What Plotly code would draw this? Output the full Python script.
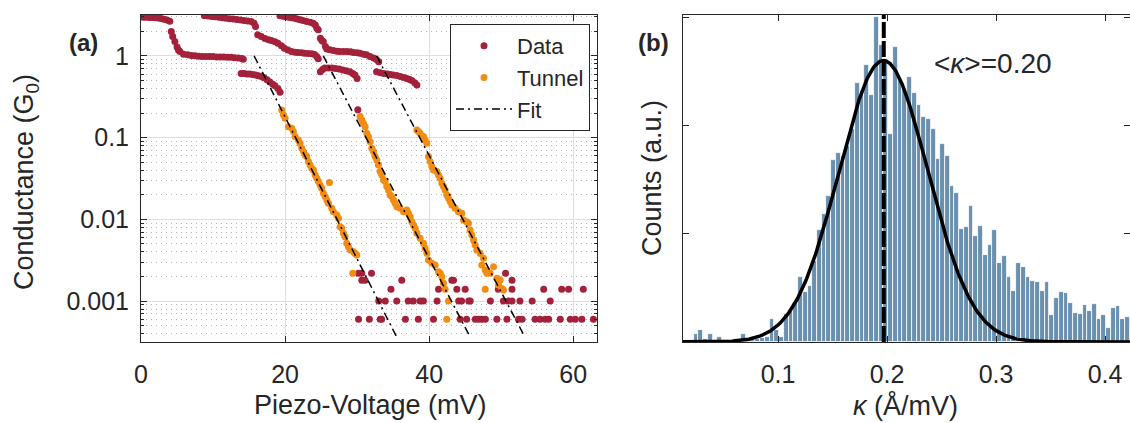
import numpy as np
import plotly.graph_objects as go

# ---------------- Panel (a) data ----------------
trace1_v = [0.0,0.4,0.8,1.2,1.6,2.0,2.4,2.8,3.2,3.6,4.0, 4.2,4.4,4.7,5.0,5.2,5.4,5.9,
            6.5,7.0,7.5,8.0,8.5,9.0,9.5,10.0,10.5,11.0,11.5,12.0,12.5,13.0,13.5,14.0,14.2,
            13.9,14.3,14.7,15.1,15.5,15.9,16.3,16.7,17.1,17.5,17.9,18.3,18.6,19.0,19.3]
trace1_g = [2.98,2.97,2.96,2.95,2.94,2.92,2.9,2.86,2.8,2.74,2.66, 1.98,1.72,1.5,1.28,1.18,1.13,1.05,
            1.03,1.01,1.0,0.99,0.98,0.98,0.98,0.98,0.97,0.97,0.97,0.96,0.96,0.95,0.94,0.93,0.91,
            0.61,0.61,0.60,0.60,0.59,0.585,0.57,0.56,0.54,0.51,0.48,0.45,0.43,0.40,0.36]

trace2_v = [8.8,9.3,9.8,10.3,10.8,11.3,11.8,12.3,12.8,13.3,13.8,14.3,14.8,15.3,15.7,15.9,
            16.2,16.7,17.2,17.7,18.1,18.6,19.0,19.5,19.9,20.4,20.9,21.4,21.8,22.3,22.7,23.2,23.7,24.1,24.4,24.6,
            24.9,25.2,25.5,26.0,26.5,27.0,27.5,28.0,28.5,29.0,29.4,29.7,30.0, 30.1]
trace2_g = [3.1,3.07,3.03,3.0,2.96,2.92,2.88,2.85,2.82,2.78,2.74,2.7,2.67,2.63,2.5,2.28,
            1.81,1.72,1.63,1.58,1.54,1.49,1.43,1.33,1.24,1.18,1.13,1.11,1.10,1.09,1.08,1.07,1.06,1.04,0.98,0.92,
            0.64,0.68,0.71,0.71,0.71,0.70,0.69,0.67,0.66,0.64,0.61,0.585,0.53, 0.22]

trace3_v = [19.3,19.7,20.1,20.5,20.9,21.3,21.7,22.1,22.5,23.0,23.5,23.9,24.2,24.4,24.6,
            24.9,25.1,25.3,25.6,
            25.8,26.2,26.7,27.2,27.6,28.1,28.6,29.1,29.5,30.0,30.4,30.9,31.3,31.8,32.3,32.7,33.0,
            32.7,33.2,33.7,34.2,34.6,35.0,35.5,36.0,36.5,36.9,37.3,37.6,38.0,38.3]
trace3_g = [3.1,3.05,3.0,2.96,2.92,2.89,2.83,2.76,2.7,2.63,2.57,2.51,2.38,2.18,2.08,
            1.64,1.54,1.5,1.30,
            1.21,1.19,1.16,1.14,1.13,1.13,1.13,1.12,1.10,1.09,1.08,1.05,1.03,0.98,0.94,0.9,0.85,
            0.64,0.62,0.61,0.6,0.59,0.585,0.575,0.56,0.545,0.53,0.515,0.50,0.47,0.44]

noise_v = [30.2,30.65,32.0,50.6,
           30.65,31.1,36.2,43.15,43.38,51.5,
           34.7,41.3,43.84,45.0,49.6,51.5,55.9,58.4,59.35,61.4,
           33.0,33.9,35.5,37.1,37.8,38.75,39.2,41.1,44.1,44.5,45.5,45.7,48.5,50.3,51.0,51.5,52.6,54.3,56.8,
           30.2,31.7,33.2,33.4,36.7,38.5,40.6,44.3,45.2,46.4,46.85,47.3,47.8,49.4,50.8,52.4,52.9,54.7,55.4,
           56.1,56.6,58.2,59.6,60.3,61.2,62.8]
noise_g = [0.0022]*4 + [0.0018]*6 + [0.0014]*10 + [0.001]*19 + [0.0006]*26

tunnel1_v = [19.54,19.77,20.0,20.46,20.93,21.16,21.39,21.85,22.08,22.31,22.55,22.78,23.01,23.24,23.47,
             23.70,23.94,24.17,24.40,24.63,24.86,25.09,25.32,25.56,25.79,26.02,26.16,26.48,26.71,27.18,
             27.41,27.64,27.87,28.10,28.33,28.56,28.80,29.04,29.5,29.72,29.95,29.4]
tunnel1_g = [0.218,0.190,0.173,0.136,0.130,0.119,0.103,0.0937,0.0853,0.0741,0.0675,0.0614,0.0586,0.0509,
             0.0463,0.0422,0.0403,0.0349,0.0318,0.0290,0.0264,0.0240,0.0208,0.0190,0.0173,0.0157,0.0282,
             0.0137,0.0124,0.0113,0.0103,0.00815,0.00778,0.00676,0.00615,0.00509,0.00463,0.00422,0.00403,
             0.00384,0.00367,0.0022]

tunnel2_v = [30.42,30.65,30.88,31.11,31.34,31.57,31.81,32.04,32.27,32.5,32.73,32.96,33.19,33.43,33.66,
             33.89,34.12,34.35,34.58,34.81,35.05,35.28,35.51,35.97,36.44,36.9,37.13,37.36,37.59,37.82,
             38.06,38.29,38.75,39.21,39.44,39.68,39.91,40.37,40.83,41.3,41.53,41.76,41.99,42.22,42.69,42.45]
tunnel2_g = [0.181,0.165,0.150,0.136,0.113,0.103,0.0893,0.0741,0.0675,0.0586,0.0533,0.0463,0.0384,0.0349,
             0.0303,0.0290,0.0252,0.0229,0.0199,0.0190,0.0173,0.0157,0.0143,0.0137,0.0124,0.0130,0.0119,
             0.0108,0.00938,0.00854,0.00778,0.00676,0.00587,0.00509,0.00443,0.00384,0.00318,0.0029,
             0.00277,0.00229,0.00219,0.00199,0.00165,0.0014,0.001,0.0006]

tunnel3_v = [38.29,38.52,38.75,39.21,39.44,39.68,39.91,40.14,40.37,40.6,41.06,41.3,41.53,41.76,41.99,
             42.22,42.45,42.69,42.92,43.15,43.61,44.07,44.54,44.77,45.23,45.46,45.69,45.93,46.16,46.39,
             46.62,47.08,47.55,47.31,47.78,48.01,48.47,48.94,49.4,49.86,49.63,50.09,50.32,47.78]
tunnel3_g = [0.124,0.119,0.113,0.103,0.0937,0.0853,0.0586,0.0509,0.0442,0.0403,0.0384,0.0349,0.0318,
             0.0276,0.0252,0.0229,0.0199,0.0181,0.0165,0.0150,0.0137,0.0124,0.0119,0.00984,0.00938,
             0.00895,0.00742,0.00644,0.0056,0.00486,0.00422,0.00384,0.00334,0.00277,0.0024,0.00219,
             0.00219,0.00264,0.0019,0.00181,0.00157,0.00143,0.00137,0.0014]

fit_v_start = [15.7, 25.3, 32.7]
fit_v_end = [35.5, 45.7, 53.3]
fit_g_start = [1.0, 1.0, 1.0]
fit_g_end = [0.000363, 0.000363, 0.000363]

# ---------------- Panel (b) data ----------------
hist_first_center = 0.0248
hist_bin_width = 0.00435
hist_counts = [0.07,0.11,0.03,0.07,0.01,0.05,0.02,0.01,0.01,0.0,
               0.07,0.02,0.02,0.03,0.04,0.05,0.21,0.11,0.05,0.26,
               0.29,0.36,0.60,0.46,0.52,0.75,1.03,1.18,1.35,1.68,
               1.75,1.72,1.81,1.97,2.39,2.32,2.56,2.28,3.0,2.74,
               2.6,1.92,2.72,2.42,2.34,2.45,2.3,2.19,2.08,2.06,
               1.97,1.69,1.83,1.72,1.44,1.38,1.04,1.06,1.26,0.98,
               1.07,0.80,0.90,1.03,0.73,0.79,0.60,0.47,0.73,0.69,
               0.60,0.56,0.55,0.47,0.55,0.25,0.41,0.46,0.45,0.36,
               0.27,0.26,0.34,0.29,0.35,0.21,0.25,0.13,0.31,0.33,
               0.21,0.23,0.18]
gauss_mean = 0.1967
gauss_sigma = 0.0408
gauss_amp = 2.60
kappa_mean_line = 0.197

# ---------------- Figure ----------------
W, H = 1130, 423
def px(x): return x / W
def py(y): return 1 - y / H

FONT = "Arial, Liberation Sans, Helvetica, sans-serif"
TXT = "#262626"
RED = "#a3213a"
ORANGE = "#f28c12"
BAR = "#6990af"

fig = go.Figure()

data_v = trace1_v + trace2_v + trace3_v + noise_v
data_g = trace1_g + trace2_g + trace3_g + noise_g
fig.add_trace(go.Scatter(x=data_v, y=data_g, mode="markers", name="Data",
                         marker=dict(color=RED, size=7), xaxis="x", yaxis="y"))
tun_v = tunnel1_v + tunnel2_v + tunnel3_v
tun_g = tunnel1_g + tunnel2_g + tunnel3_g
fig.add_trace(go.Scatter(x=tun_v, y=tun_g, mode="markers", name="Tunnel",
                         marker=dict(color=ORANGE, size=7), xaxis="x", yaxis="y"))
fx, fy = [], []
for a, b, c, d in zip(fit_v_start, fit_v_end, fit_g_start, fit_g_end):
    fx += [a, b, None]
    fy += [c, d, None]
fig.add_trace(go.Scatter(x=fx, y=fy, mode="lines", name="Fit",
                         line=dict(color="black", width=1.5, dash="8px,4px,2px,4px"),
                         xaxis="x", yaxis="y"))

centers = [round(hist_first_center + i * hist_bin_width, 5) for i in range(len(hist_counts))]
fig.add_trace(go.Bar(x=centers, y=hist_counts, width=hist_bin_width,
                     marker=dict(color=BAR, line=dict(color="white", width=0.8)),
                     showlegend=False, xaxis="x2", yaxis="y2"))
kf = np.linspace(0.0, 0.45, 500)
gf = gauss_amp * np.exp(-(kf - gauss_mean) ** 2 / (2 * gauss_sigma ** 2))
fig.add_trace(go.Scatter(x=kf, y=gf, mode="lines", line=dict(color="black", width=3.5),
                         showlegend=False, xaxis="x2", yaxis="y2"))
fig.add_trace(go.Scatter(x=[kappa_mean_line, kappa_mean_line], y=[0, 3.1], mode="lines",
                         line=dict(color="black", width=4, dash="16px,3px"),
                         showlegend=False, xaxis="x2", yaxis="y2"))

minor_vals = [k * 10.0 ** d for d in range(-4, 1) for k in range(2, 10)]
axis_common = dict(showline=True, linecolor=TXT, linewidth=1, mirror="ticks",
                   ticks="inside", tickcolor=TXT, zeroline=False, automargin=False,
                   tickfont=dict(family=FONT, size=25, color=TXT))

fig.update_layout(
    width=W, height=H, margin=dict(l=0, r=0, t=0, b=0, autoexpand=False),
    paper_bgcolor="white", plot_bgcolor="white",
    font=dict(family=FONT, color=TXT),
    xaxis=dict(domain=[px(141), px(597)], range=[0, 63.3], tickvals=[0, 20, 40, 60],
               showgrid=True, gridcolor="#dedede", ticklen=6, ticklabelstandoff=10,
               anchor="y", **axis_common),
    yaxis=dict(domain=[py(342), py(15)], type="log", range=[-3.5, 0.5],
               tickvals=[0.001, 0.01, 0.1, 1], ticktext=["0.001", "0.01", "0.1", "1"],
               showgrid=True, gridcolor="#dedede", ticklen=6, ticklabelstandoff=6,
               minor=dict(tickvals=minor_vals, ticks="inside", ticklen=3, tickcolor=TXT,
                          showgrid=True, gridcolor="#b5b5b5", griddash="1px,4px", gridwidth=1),
               anchor="x", **axis_common),
    xaxis2=dict(domain=[px(683), 1.0], range=[0.0128, 0.4229], tickvals=[0.1, 0.2, 0.3, 0.4],
                showgrid=False, ticklen=6, ticklabelstandoff=10, anchor="y2", **axis_common),
    yaxis2=dict(domain=[py(342), py(15)], range=[0, 3.02], tickvals=[1, 2, 3],
                showticklabels=False, showgrid=False, ticklen=6, anchor="x2", **axis_common),
    bargap=0,
    legend=dict(x=px(590), xanchor="right", y=py(24), yanchor="top",
                bordercolor=TXT, borderwidth=1, bgcolor="white", itemwidth=56,
                font=dict(family=FONT, size=22, color=TXT)),
)

ann = [
    dict(text="<b>(a)</b>", x=px(83), y=py(42), size=24),
    dict(text="<b>(b)</b>", x=px(653), y=py(42), size=24),
    dict(text="Conductance (G<sub>0</sub>)", x=px(26), y=py(182), size=27, angle=-90),
    dict(text="Counts (a.u.)", x=px(652), y=py(178), size=27, angle=-90),
    dict(text="Piezo-Voltage (mV)", x=px(370), y=py(405), size=27),
    dict(text="<i>κ</i> (Å/mV)", x=px(905), y=py(405), size=27),
    dict(text="&lt;<i>κ</i>&gt;=0.20", x=px(993), y=py(63), size=28),
]
for a in ann:
    fig.add_annotation(text=a["text"], x=a["x"], y=a["y"], xref="paper", yref="paper",
                       showarrow=False, textangle=a.get("angle", 0),
                       font=dict(family=FONT, size=a["size"], color=TXT),
                       xanchor="center", yanchor="middle")

fig.write_html("out.html", config={"displayModeBar": False},
               post_script="document.body.style.margin='0px';document.body.style.overflow='hidden';")
